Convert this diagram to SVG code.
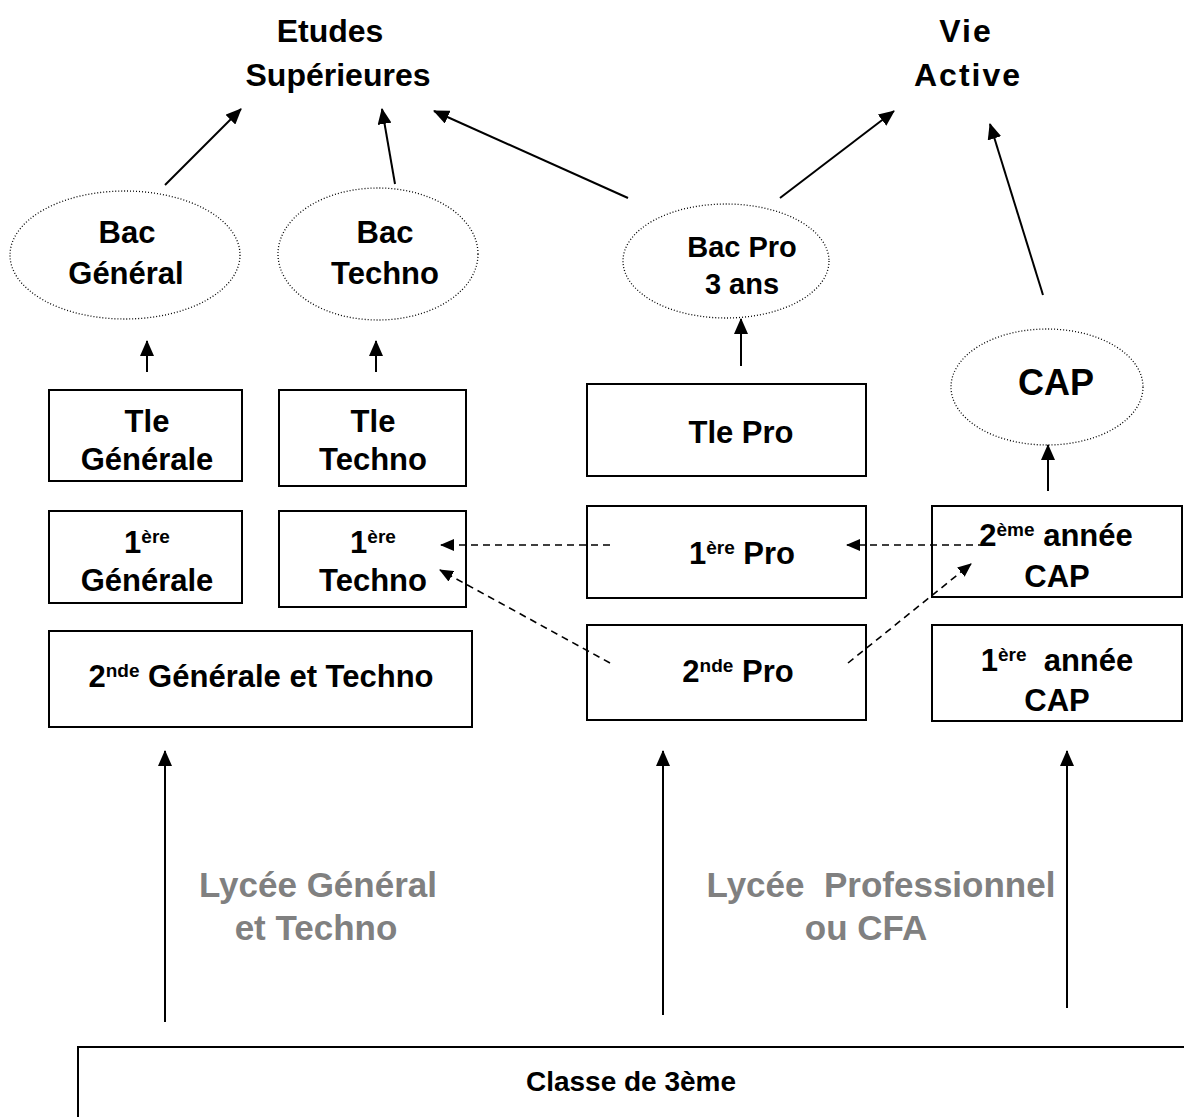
<svg xmlns="http://www.w3.org/2000/svg" width="1184" height="1117" viewBox="0 0 1184 1117">
<defs>
<style>
.t{font-family:"Liberation Sans",Arial,sans-serif;font-weight:bold;fill:#000;text-anchor:middle;font-size:31px}
.h{font-size:32px}
.p{font-size:29px}
.c{font-size:36px}
.k{font-size:28px}
.b{fill:#fff;stroke:#000;stroke-width:2}
.e{fill:#fff;stroke:#000;stroke-width:1.3;stroke-dasharray:1 2}
.a{stroke:#000;stroke-width:2;fill:none;marker-end:url(#ah)}
.d{stroke:#000;stroke-width:1.6;fill:none;stroke-dasharray:7 5;marker-end:url(#dh)}
.g{fill:#808080;font-size:35px}
.s{font-size:19px}
</style>
<marker id="ah" viewBox="0 0 16 14" refX="15" refY="7" markerWidth="16" markerHeight="14" markerUnits="userSpaceOnUse" orient="auto">
<path d="M0,0 L16,7 L0,14 z" fill="#000"/>
</marker>
<marker id="dh" viewBox="0 0 14 12" refX="13" refY="6" markerWidth="14" markerHeight="12" markerUnits="userSpaceOnUse" orient="auto">
<path d="M0,0 L14,6 L0,12 z" fill="#000"/>
</marker>
</defs>
<rect width="1184" height="1117" fill="#fff"/>

<g id="etudes"><text class="t h" x="330" y="42">Etudes</text><text class="t h" x="338" y="86">Supérieures</text></g>
<g id="vie"><text class="t h" x="966" y="42" letter-spacing="2">Vie</text><text class="t h" x="968" y="86" letter-spacing="2">Active</text></g>

<g id="bacgen"><ellipse class="e" cx="125" cy="255" rx="115" ry="64"/><text class="t" x="127" y="243">Bac</text><text class="t" x="126" y="284">Général</text></g>
<g id="bactech"><ellipse class="e" cx="378" cy="254" rx="100" ry="66"/><text class="t" x="385" y="243">Bac</text><text class="t" x="385" y="284">Techno</text></g>
<g id="bacpro"><ellipse class="e" cx="726" cy="261" rx="103" ry="57"/><text class="t p" x="742" y="257">Bac Pro</text><text class="t p" x="742" y="294">3 ans</text></g>
<g id="cap"><ellipse class="e" cx="1047" cy="387" rx="96" ry="58"/><text class="t c" x="1056" y="395">CAP</text></g>

<g id="tlegen"><rect class="b" x="49" y="390" width="193" height="91"/><text class="t" x="147" y="432">Tle</text><text class="t" x="147" y="470">Générale</text></g>
<g id="tletech"><rect class="b" x="279" y="390" width="187" height="96"/><text class="t" x="373" y="432">Tle</text><text class="t" x="373" y="470">Techno</text></g>
<g id="tlepro"><rect class="b" x="587" y="384" width="279" height="92"/><text class="t" x="741" y="443">Tle Pro</text></g>

<g id="premgen"><rect class="b" x="49" y="511" width="193" height="92"/><text class="t" x="147" y="553">1<tspan class="s" dy="-10">ère</tspan></text><text class="t" x="147" y="591">Générale</text></g>
<g id="premtech"><rect class="b" x="279" y="511" width="187" height="96"/><text class="t" x="373" y="553">1<tspan class="s" dy="-10">ère</tspan></text><text class="t" x="373" y="591">Techno</text></g>
<g id="prempro"><rect class="b" x="587" y="506" width="279" height="92"/><text class="t" x="742" y="564">1<tspan class="s" dy="-10">ère</tspan><tspan dy="10"> Pro</tspan></text></g>
<g id="cap2"><rect class="b" x="932" y="506" width="250" height="91"/><text class="t" x="1056" y="546">2<tspan class="s" dy="-10">ème</tspan><tspan dy="10"> année</tspan></text><text class="t" x="1057" y="587">CAP</text></g>

<g id="secgt"><rect class="b" x="49" y="631" width="423" height="96"/><text class="t" x="261" y="687">2<tspan class="s" dy="-10">nde</tspan><tspan dy="10"> Générale et Techno</tspan></text></g>
<g id="secpro"><rect class="b" x="587" y="625" width="279" height="95"/><text class="t" x="738" y="682">2<tspan class="s" dy="-10">nde</tspan><tspan dy="10"> Pro</tspan></text></g>
<g id="cap1"><rect class="b" x="932" y="625" width="250" height="96"/><text class="t" x="1057" y="671" xml:space="preserve">1<tspan class="s" dy="-10">ère</tspan><tspan dy="10">  année</tspan></text><text class="t" x="1057" y="711">CAP</text></g>

<g id="lgt"><text class="t g" x="318" y="897">Lycée Général</text><text class="t g" x="316" y="940">et Techno</text></g>
<g id="lp"><text class="t g" x="881" y="897" xml:space="preserve">Lycée  Professionnel</text><text class="t g" x="866" y="940">ou CFA</text></g>

<g id="troisieme"><rect class="b" x="78" y="1047" width="1120" height="90"/><text class="t k" x="631" y="1091">Classe de 3ème</text></g>

<g id="connectors">
<line class="a" x1="165" y1="185" x2="241" y2="109"/>
<line class="a" x1="395" y1="184" x2="382" y2="109"/>
<line class="a" x1="628" y1="198" x2="434" y2="111"/>
<line class="a" x1="780" y1="198" x2="894" y2="111"/>
<line class="a" x1="1043" y1="295" x2="990" y2="124"/>
<line class="a" x1="147" y1="372" x2="147" y2="341"/>
<line class="a" x1="376" y1="372" x2="376" y2="341"/>
<line class="a" x1="741" y1="366" x2="741" y2="319"/>
<line class="a" x1="1048" y1="491" x2="1048" y2="445"/>
<line class="a" x1="165" y1="1022" x2="165" y2="751"/>
<line class="a" x1="663" y1="1015" x2="663" y2="751"/>
<line class="a" x1="1067" y1="1008" x2="1067" y2="751"/>
<line class="d" x1="610" y1="545" x2="441" y2="545"/>
<line class="d" x1="610" y1="663" x2="440" y2="570"/>
<line class="d" x1="985" y1="545" x2="847" y2="545"/>
<line class="d" x1="848" y1="663" x2="971" y2="564"/>
</g>
</svg>
